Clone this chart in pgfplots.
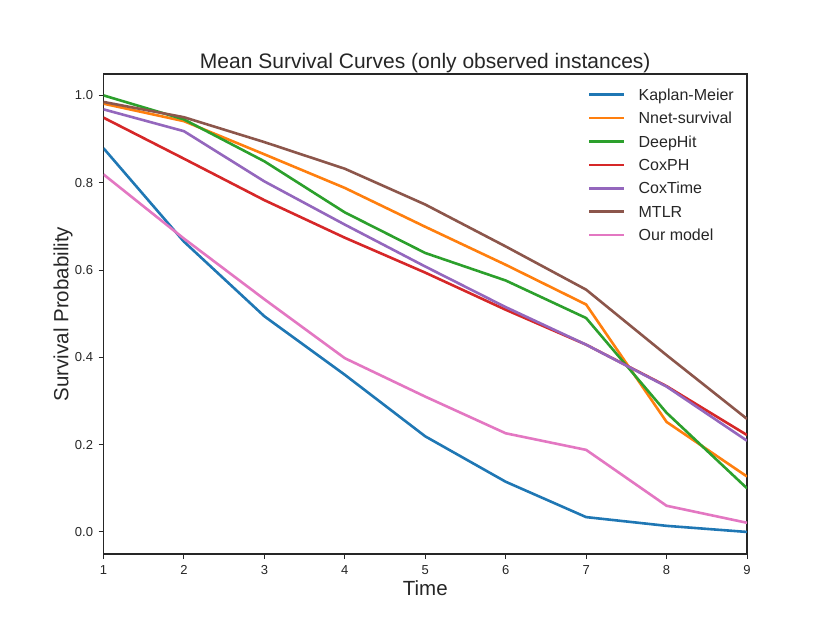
\documentclass[border=0pt]{standalone}
\usepackage{fontspec}
\setmainfont{Liberation Sans}
\usepackage{pgfplots}
\pgfplotsset{compat=1.18}
\definecolor{tabblue}{HTML}{1F77B4}
\definecolor{taborange}{HTML}{FF7F0E}
\definecolor{tabgreen}{HTML}{2CA02C}
\definecolor{tabred}{HTML}{D62728}
\definecolor{tabpurple}{HTML}{9467BD}
\definecolor{tabbrown}{HTML}{8C564B}
\definecolor{tabpink}{HTML}{E377C2}
\definecolor{axgray}{HTML}{262626}
\begin{document}
\begin{tikzpicture}
\path[use as bounding box] (-103.5bp,-69bp) rectangle (726.5bp,554bp);
\begin{axis}[
  at={(0,0)}, anchor=south west,
  scale only axis, width=643.5bp, height=480bp,
  xmin=1, xmax=9, ymin=-0.0505, ymax=1.049,
  xtick={1,2,3,4,5,6,7,8,9},
  ytick={0,0.2,0.4,0.6,0.8,1.0},
  yticklabel style={xshift=-2bp, /pgf/number format/.cd, fixed, fixed zerofill, precision=1},
  /pgf/number format/assume math mode=true,
  tick label style={font=\fontsize{13bp}{15bp}\selectfont, text=axgray},
  xticklabel style={yshift=-3bp},
  tick align=outside, major tick length=5bp,
  tick style={axgray, line width=1bp},
  xtick pos=bottom, ytick pos=left,
  axis line style={axgray, line width=1.2bp},
  title={Mean Survival Curves (only observed instances)},
  every axis title/.style={at={(axis description cs:0.5,1)}, anchor=base, yshift=5.3bp, font=\fontsize{21bp}{24bp}\selectfont, text=axgray},
  xlabel={Time},
  ylabel={Survival Probability},
  every axis x label/.style={at={(axis description cs:0.5,0)}, anchor=base, yshift=-41.7bp, font=\fontsize{20.5bp}{24bp}\selectfont, text=axgray},
  every axis y label/.style={at={(axis description cs:-0.0544,0.5)}, rotate=90, anchor=base, font=\fontsize{20.5bp}{24bp}\selectfont, text=axgray},
  legend style={draw=none, fill=none, at={(axis description cs:0.753,0.970)}, anchor=north west,
    inner sep=0pt, outer sep=0pt, row sep=7.9bp, column sep=13bp,
    font=\fontsize{16bp}{19bp}\selectfont, text=axgray,
    nodes={inner sep=0pt, text height=12bp, text depth=3.5bp, anchor=base west}},
  legend cell align=left,
  legend image code/.code={\draw[#1, line width=2.6bp] (0bp,5.7bp) -- (35bp,5.7bp);},
  every axis plot/.append style={line width=2.6bp, mark=none},
  clip=true,
]
\addplot[tabblue] coordinates {(1,0.879) (2,0.665) (3,0.494) (4,0.360) (5,0.219) (6,0.115) (7,0.034) (8,0.014) (9,0.000)};
\addlegendentry{Kaplan-Meier}
\addplot[taborange] coordinates {(1,0.981) (2,0.941) (3,0.865) (4,0.788) (5,0.699) (6,0.612) (7,0.521) (8,0.252) (9,0.127)};
\addlegendentry{Nnet-survival}
\addplot[tabgreen] coordinates {(1,1.000) (2,0.945) (3,0.849) (4,0.732) (5,0.639) (6,0.576) (7,0.490) (8,0.273) (9,0.100)};
\addlegendentry{DeepHit}
\addplot[tabred] coordinates {(1,0.949) (2,0.855) (3,0.760) (4,0.674) (5,0.594) (6,0.509) (7,0.429) (8,0.334) (9,0.222)};
\addlegendentry{CoxPH}
\addplot[tabpurple] coordinates {(1,0.968) (2,0.918) (3,0.803) (4,0.704) (5,0.608) (6,0.515) (7,0.429) (8,0.333) (9,0.209)};
\addlegendentry{CoxTime}
\addplot[tabbrown] coordinates {(1,0.985) (2,0.950) (3,0.893) (4,0.832) (5,0.750) (6,0.654) (7,0.555) (8,0.405) (9,0.259)};
\addlegendentry{MTLR}
\addplot[tabpink] coordinates {(1,0.819) (2,0.672) (3,0.533) (4,0.398) (5,0.310) (6,0.226) (7,0.188) (8,0.060) (9,0.021)};
\addlegendentry{Our model}
\end{axis}
\end{tikzpicture}
\end{document}
